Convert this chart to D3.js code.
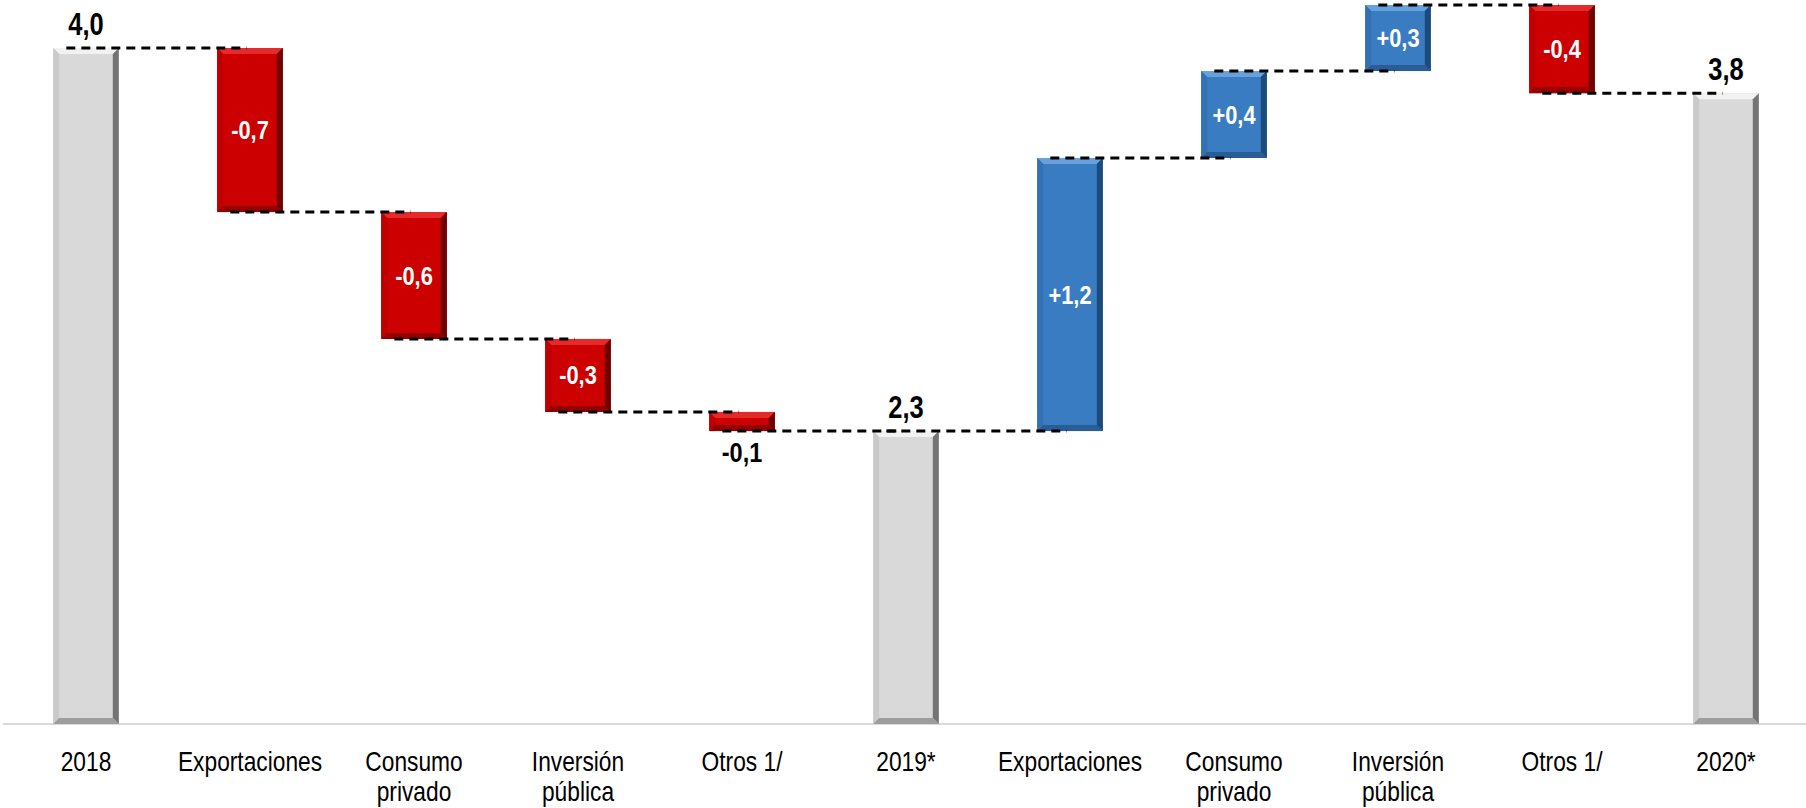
<!DOCTYPE html>
<html>
<head>
<meta charset="utf-8">
<script src="https://cdn.jsdelivr.net/npm/d3@7"></script>
<style>
  body { margin: 0; background: #fff; }
  svg { display: block; }
</style>
</head>
<body>
<div id="container"></div>
<script>
// x axis categories ("\n" = second line of the label)
const categories = ["2018", "Exportaciones", "Consumo\nprivado", "Inversión\npública", "Otros 1/",
  "2019*", "Exportaciones", "Consumo\nprivado", "Inversión\npública", "Otros 1/", "2020*"];

// total = level bar from the axis, delta = floating step
const barTypes = ["total", "delta", "delta", "delta", "delta",
  "total", "delta", "delta", "delta", "delta", "total"];

// levels for totals, changes for deltas
const values = [4.0, -0.728, -0.563, -0.324, -0.085, 2.3, 1.212, 0.386, 0.293, -0.391, 3.8];

// value axis limits (axis is hidden, bars start at 1.0)
const axisMin = 1.0;
const axisMax = 4.2;

const width = 1806;
const height = 808;

// decimal comma, plain hyphen for minus
const locale = d3.formatLocale({ decimal: ",", thousands: ".", grouping: [3], currency: ["", ""], minus: "-" });
const fmtTotal = locale.format(".1f");
const fmtDelta = locale.format("+.1f");

const palettes = {
  total: { body: "#d9d9d9", top: "#f2f2f2", left: "#cacaca", right: "#747474", bottom: "#9d9d9d" },
  neg:   { body: "#cc0000", top: "#e42a2a", left: "#bf0000", right: "#6e0000", bottom: "#930000" },
  pos:   { body: "#3a7cc2", top: "#67a0da", left: "#3471b3", right: "#1b4a7c", bottom: "#2a5d96" }
};

// running totals -> start / end of each bar
var bars = [];
var running = 0;
values.forEach((v, i) => {
  if (barTypes[i] === "total") {
    bars.push({ i: i, start: axisMin, end: v, type: "total", label: fmtTotal(v) });
    running = v;
  } else {
    bars.push({ i: i, start: running, end: running + v, type: v < 0 ? "neg" : "pos", label: fmtDelta(v) });
    running = running + v;
  }
});

const svg = d3.select("#container").append("svg")
  .attr("width", width)
  .attr("height", height);

const x = d3.scaleBand()
  .domain(d3.range(categories.length))
  .range([4, 1808])
  .paddingInner(0.6)
  .paddingOuter(0.3);

const y = d3.scaleLinear()
  .domain([axisMin, axisMax])
  .range([724, 3]);

const bw = x.bandwidth();

// baseline
svg.append("line")
  .attr("x1", 3).attr("x2", width)
  .attr("y1", y(axisMin)).attr("y2", y(axisMin))
  .attr("stroke", "#d9d9d9")
  .attr("stroke-width", 2);

// beveled bar
function bevelBar(g, x0, y0, w, h, pal) {
  const b = Math.min(6, h / 3, w / 3);
  const pts = (arr) => arr.map((p) => p.join(",")).join(" ");
  g.append("rect").attr("x", x0).attr("y", y0).attr("width", w).attr("height", h).attr("fill", pal.body);
  g.append("polygon").attr("fill", pal.top)
    .attr("points", pts([[x0, y0], [x0 + w, y0], [x0 + w - b, y0 + b], [x0 + b, y0 + b]]));
  g.append("polygon").attr("fill", pal.left)
    .attr("points", pts([[x0, y0], [x0 + b, y0 + b], [x0 + b, y0 + h - b], [x0, y0 + h]]));
  g.append("polygon").attr("fill", pal.right)
    .attr("points", pts([[x0 + w, y0], [x0 + w, y0 + h], [x0 + w - b, y0 + h - b], [x0 + w - b, y0 + b]]));
  g.append("polygon").attr("fill", pal.bottom)
    .attr("points", pts([[x0, y0 + h], [x0 + b, y0 + h - b], [x0 + w - b, y0 + h - b], [x0 + w, y0 + h]]));
}

const gBars = svg.append("g");
bars.forEach((d) => {
  const top = y(Math.max(d.start, d.end));
  const bottom = y(Math.min(d.start, d.end));
  bevelBar(gBars.append("g"), x(d.i), top, bw, bottom - top, palettes[d.type]);
});

// dashed connectors between consecutive bars
const gLines = svg.append("g");
for (var i = 0; i < bars.length - 1; i++) {
  const level = bars[i].end;
  gLines.append("line")
    .attr("x1", x(i) + bw * 0.2)
    .attr("x2", x(i + 1) + bw * 0.45)
    .attr("y1", y(level))
    .attr("y2", y(level))
    .attr("stroke", "#000")
    .attr("stroke-width", 3)
    .attr("stroke-dasharray", "9,6");
}

// value labels
const gLabels = svg.append("g")
  .attr("font-family", "'Liberation Sans', Arial, sans-serif")
  .attr("font-weight", "bold")
  .attr("text-anchor", "middle");

bars.forEach((d) => {
  const cx = x(d.i) + bw / 2;
  const top = y(Math.max(d.start, d.end));
  const bottom = y(Math.min(d.start, d.end));
  var ty, fill, size, sc;
  if (d.type === "total") {
    ty = top - 13; fill = "#000"; size = 26; sc = "scale(0.98,1.18)";
  } else if (bottom - top >= 30) {
    ty = (top + bottom) / 2 + 9; fill = "#fff"; size = 23; sc = "scale(0.95,1.15)";
  } else {
    ty = bottom + 31; fill = "#000"; size = 24; sc = "scale(0.98,1.15)";
  }
  gLabels.append("text")
    .attr("transform", "translate(" + cx + "," + ty + ") " + sc)
    .attr("font-size", size)
    .attr("fill", fill)
    .text(d.label);
});

// category labels
const gAxis = svg.append("g")
  .attr("font-family", "'Liberation Sans', Arial, sans-serif")
  .attr("font-size", 25)
  .attr("fill", "#000")
  .attr("text-anchor", "middle");

categories.forEach((c, i) => {
  const cx = x(i) + bw / 2;
  c.split("\n").forEach((line, k) => {
    gAxis.append("text")
      .attr("transform", "translate(" + cx + "," + (771 + k * 30) + ") scale(0.91,1.12)")
      .text(line);
  });
});
</script>
</body>
</html>
